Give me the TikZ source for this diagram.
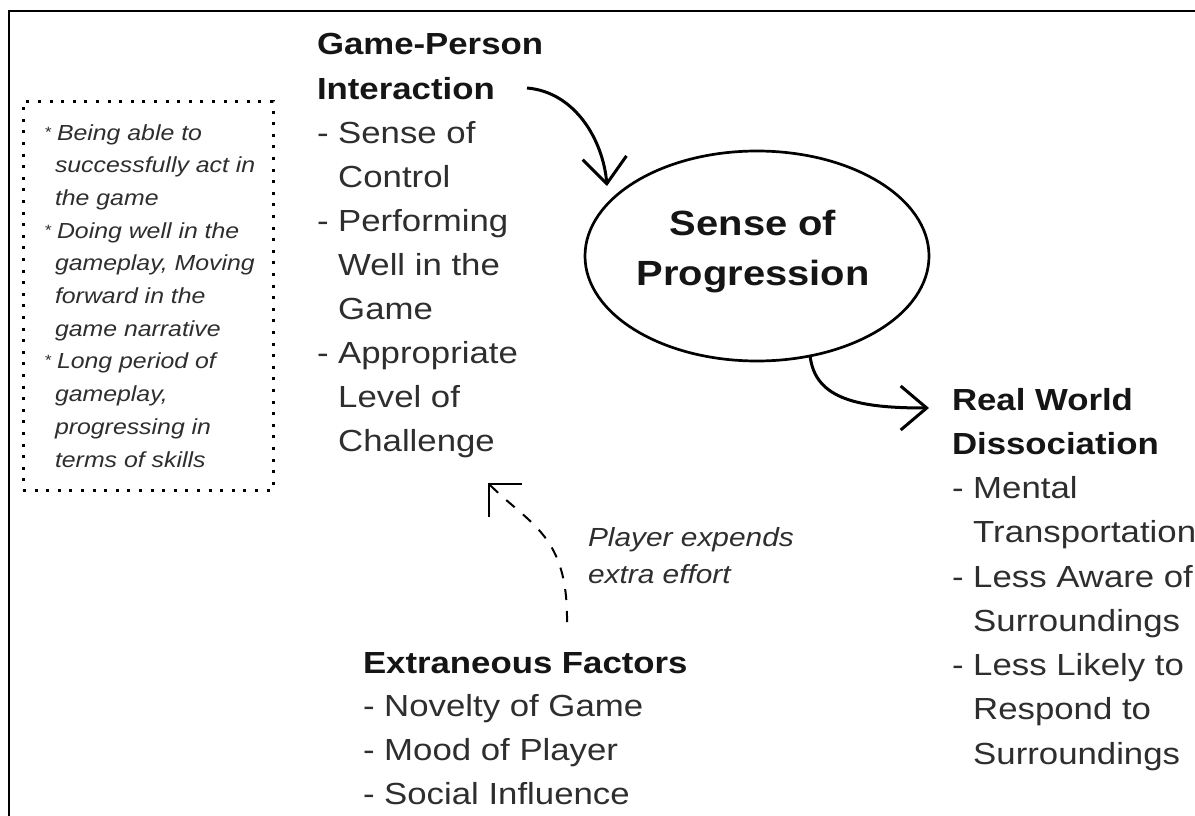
\documentclass[tikz,border=0pt]{standalone}
\usepackage{fontspec}
\setmainfont{Liberation Sans}[FakeStretch=1.14]
\usetikzlibrary{arrows.meta,shapes.geometric}
\definecolor{txtgray}{HTML}{2E2E2E}
\definecolor{headblack}{HTML}{151515}
\newcommand{\notestar}{\llap{\raisebox{3pt}{\fontsize{15}{15}\selectfont *}\hspace{6pt}}}
\begin{document}
\begin{tikzpicture}[x=1pt,y=-1pt,
  every node/.style={inner sep=0pt, outer sep=0pt},
  body/.style={anchor=base west, text=txtgray, font=\fontsize{30.5}{44}\selectfont},
  head/.style={anchor=base west, text=headblack, font=\fontsize{30.5}{44}\selectfont\bfseries},
  note/.style={anchor=base west, text=txtgray, font=\fontsize{21.8}{32}\selectfont\itshape},
  effort/.style={anchor=base west, text=txtgray, font=\fontsize{26.2}{37}\selectfont\itshape},
  notebox/.style={draw=black, line width=3pt, dash pattern=on 3pt off 8.6pt},
  flow/.style={draw=black, line width=3pt, -{Straight Barb[length=26pt,width=44pt,line width=3pt]}},
  dflow/.style={draw=black, line width=2pt, dash pattern=on 11pt off 11pt, -{Straight Barb[length=23pt,width=46pt,line width=2pt]}}
]
\useasboundingbox (0,0) rectangle (1195,816);
\fill[white] (0,0) rectangle (1195,816);
% cropped frame: top and left edges only
\draw[line width=2.5pt] (9,816) -- (9,11) -- (1195,11);

% dotted note box
\node[notebox, minimum width=250pt, minimum height=388pt] (notebox) at (148,296) {};
\node[note] (n1)  at (57,140)   {\notestar Being able to};
\node[note] (n2)  at (55,172.7) {successfully act in};
\node[note] (n3)  at (55,205.4) {the game};
\node[note] (n4)  at (57,238.1) {\notestar Doing well in the};
\node[note] (n5)  at (55,270.8) {gameplay, Moving};
\node[note] (n6)  at (55,303.5) {forward in the};
\node[note] (n7)  at (55,336.2) {game narrative};
\node[note] (n8)  at (57,368.9) {\notestar Long period of};
\node[note] (n9)  at (55,401.6) {gameplay,};
\node[note] (n10) at (55,434.3) {progressing in};
\node[note] (n11) at (55,467)   {terms of skills};

% Game-Person Interaction
\node[head] (gp1)  at (317,55)    {Game-Person};
\node[head] (gp2)  at (317,99.1)  {Interaction};
\node[body] (gp3)  at (317,143.2) {- Sense of};
\node[body] (gp4)  at (317,187.3) {\phantom{- }Control};
\node[body] (gp5)  at (317,231.4) {- Performing};
\node[body] (gp6)  at (317,275.5) {\phantom{- }Well in the};
\node[body] (gp7)  at (317,319.6) {\phantom{- }Game};
\node[body] (gp8)  at (317,363.7) {- Appropriate};
\node[body] (gp9)  at (317,407.8) {\phantom{- }Level of};
\node[body] (gp10) at (317,451.9) {\phantom{- }Challenge};

% Sense of Progression
\node[draw=black, line width=2.7pt, ellipse, minimum width=344pt, minimum height=210pt] (sp) at (757,256) {};
\node[align=center, text=headblack, font=\fontsize{35}{50}\selectfont\bfseries] (sptxt) at (753,252) {Sense of\\Progression};

% Real World Dissociation
\node[head] (rw1) at (952,410)    {Real World};
\node[head] (rw2) at (952,454.25) {Dissociation};
\node[body] (rw3) at (952,498.5)  {- Mental};
\node[body] (rw4) at (952,542.75) {\phantom{- }Transportation};
\node[body] (rw5) at (952,587)    {- Less Aware of};
\node[body] (rw6) at (952,631.25) {\phantom{- }Surroundings};
\node[body] (rw7) at (952,675.5)  {- Less Likely to};
\node[body] (rw8) at (952,719.75) {\phantom{- }Respond to};
\node[body] (rw9) at (952,764)    {\phantom{- }Surroundings};

% Extraneous Factors
\node[head] (ef1) at (363,673)   {Extraneous Factors};
\node[body] (ef2) at (363,716.7) {- Novelty of Game};
\node[body] (ef3) at (363,760.4) {- Mood of Player};
\node[body] (ef4) at (363,804.1) {- Social Influence};

% label of dashed arrow
\node[effort] (pe1) at (588,546) {Player expends};
\node[effort] (pe2) at (588,583) {extra effort};

% connectors
\coordinate (a1s) at (527,88);
\coordinate (a1e) at (607,186);
\draw[flow] (a1s) .. controls (575,92) and (603,140) .. (a1e);

\coordinate (a2e) at (929,408);
\draw[flow] (sp.-62) .. controls (815,400) and (860,408) .. (a2e);

\coordinate (a3s) at (567,622);
\coordinate (a3e) at (488,483);
\draw[dflow] (a3s) .. controls (568,535) and (530,525) .. (a3e);
\end{tikzpicture}
\end{document}
